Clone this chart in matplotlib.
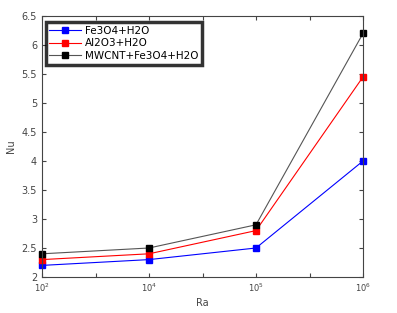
import matplotlib
matplotlib.use("Agg")
import matplotlib.pyplot as plt

categories = ["$10^2$", "$10^4$", "$10^5$", "$10^6$"]
fe3o4 = [2.2, 2.3, 2.5, 4.0]
al2o3 = [2.3, 2.4, 2.8, 5.45]
mwcnt = [2.4, 2.5, 2.9, 6.2]
labels = ["Fe3O4+H2O", "Al2O3+H2O", "MWCNT+Fe3O4+H2O"]
yticks = [2, 2.5, 3, 3.5, 4, 4.5, 5, 5.5, 6, 6.5]

fig = plt.figure(figsize=(3.97, 3.13), dpi=100)
ax = fig.add_axes([42/397, 1-277/313, (363-42)/397, (277-16)/313])
x = list(range(1, len(categories)+1))
ax.plot(x, fe3o4, color="blue", marker="s", ms=4.5, lw=0.8, label=labels[0], clip_on=False)
ax.plot(x, al2o3, color="red", marker="s", ms=4.5, lw=0.8, label=labels[1], clip_on=False)
ax.plot(x, mwcnt, color="#555555", marker="s", ms=4.5, lw=0.8, mfc="black", mec="black",
        label=labels[2], clip_on=False)

ax.set_xlim(1, 4)
ax.set_ylim(2, 6.5)
ax.set_xticks(x)
ax.set_xticklabels(categories, fontsize=6, color="#444444")
ax.set_xticks([1.5, 2.5, 3.5], minor=True)
ax.set_yticks(yticks)
ax.set_yticklabels([f"{v:g}" for v in yticks], fontsize=7, color="#444444")
ax.tick_params(direction="in", top=True, right=True, which="both", length=3, width=0.8, color="#444444")
ax.tick_params(which="minor", length=3)
for s in ax.spines.values():
    s.set_color("#444444")
    s.set_linewidth(0.8)
ax.set_xlabel("Ra", fontsize=7, color="#444444", labelpad=3)
ax.set_ylabel("Nu", fontsize=7, color="#444444", labelpad=4)

leg = ax.legend(loc="upper left", fontsize=7.5, frameon=True, fancybox=False,
                borderpad=0.35, handlelength=3.0, labelspacing=0.25, handletextpad=0.4,
                borderaxespad=0.0, bbox_to_anchor=(0.012, 0.977))
leg.get_frame().set_edgecolor("black")
leg.get_frame().set_linewidth(2.5)
fig.savefig("out.png", dpi=100)
